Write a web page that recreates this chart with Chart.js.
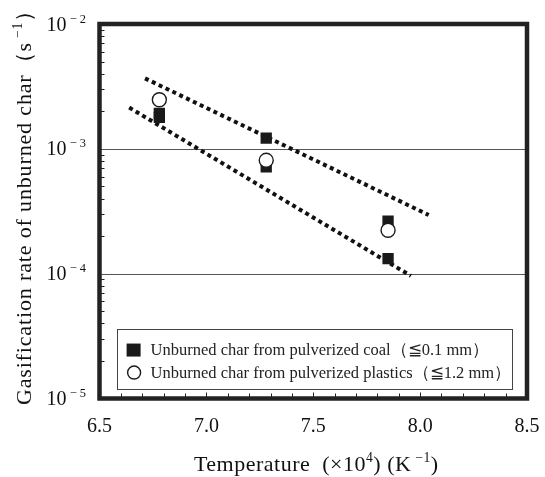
<!DOCTYPE html>
<html>
<head>
<meta charset="utf-8">
<script src="https://cdn.jsdelivr.net/npm/chart.js@4"></script>
<style>
  html, body { margin: 0; padding: 0; background: #fff; }
  canvas { display: block; }
</style>
</head>
<body>
<canvas id="grafico" width="545" height="477"></canvas>
<script>
// dados
const temperaturas = [6.78, 7.28, 7.85];
const carvaoAlto = [1.92e-3, 1.22e-3, 2.63e-4];
const carvaoBaixo = [1.79e-3, 7.18e-4, 1.32e-4];
const plasticos = [2.47e-3, 8.09e-4, 2.23e-4];

const retaSuperiorX = [6.713, 8.04];
const retaSuperiorY = [3.67e-3, 2.95e-4];
const retaInferiorX = [6.639, 7.957];
const retaInferiorY = [2.14e-3, 9.6e-5];

const ticksX = [6.5, 7.0, 7.5, 8.0, 8.5];
const expoentesY = [-2, -3, -4, -5];
const gradeY = [1e-3, 1e-4];

const legendas = [
    'Unburned char from pulverized coal（≦0.1 mm）',
    'Unburned char from pulverized plastics（≦1.2 mm）'
];

const FONTE = '"Liberation Serif", "Times New Roman", serif';

function pontos(xs, ys) {
    return xs.map((x, i) => ({ x: x, y: ys[i] }));
}

// desenha texto com partes sobrescritas
function textoRico(ctx, partes, x, y, align, espaco) {
    ctx.letterSpacing = (espaco || 0) + 'px';
    let total = 0;
    partes.forEach(p => {
        ctx.font = (p.sup ? p.size * 0.62 : p.size) + 'px ' + FONTE;
        p.w = ctx.measureText(p.t).width;
        total += p.w;
    });
    let cx = align === 'center' ? x - total / 2 : (align === 'right' ? x - total : x);
    partes.forEach(p => {
        ctx.font = (p.sup ? p.size * 0.62 : p.size) + 'px ' + FONTE;
        ctx.textAlign = 'left';
        ctx.textBaseline = 'alphabetic';
        ctx.fillText(p.t, cx, p.sup ? y - p.size * 0.4 : y);
        cx += p.w;
    });
    ctx.letterSpacing = '0px';
}

const decoracao = {
    id: 'decoracao',
    beforeDatasetsDraw(chart) {
        const ctx = chart.ctx;
        const a = chart.chartArea;
        const sy = chart.scales.y;
        ctx.save();
        ctx.strokeStyle = '#555';
        ctx.lineWidth = 1;
        gradeY.forEach(v => {
            const py = Math.round(sy.getPixelForValue(v)) + 0.5;
            ctx.beginPath();
            ctx.moveTo(a.left, py);
            ctx.lineTo(a.right, py);
            ctx.stroke();
        });
        ctx.restore();
    },
    afterDraw(chart) {
        const ctx = chart.ctx;
        const a = chart.chartArea;
        const sx = chart.scales.x;
        const sy = chart.scales.y;
        ctx.save();
        ctx.fillStyle = '#222';
        ctx.strokeStyle = '#222';

        // marcas menores do eixo x
        ctx.lineWidth = 1;
        for (let i = 0; i <= 20; i++) {
            const px = Math.round(sx.getPixelForValue(6.5 + i * 0.1)) + 0.5;
            const len = i % 5 === 0 ? 6 : 5;
            ctx.beginPath();
            ctx.moveTo(px, a.bottom);
            ctx.lineTo(px, a.bottom - len);
            ctx.stroke();
        }
        // marcas menores do eixo y (log)
        for (let d = -5; d <= -3; d++) {
            for (let m = 2; m <= 9; m++) {
                const py = Math.round(sy.getPixelForValue(m * Math.pow(10, d))) + 0.5;
                ctx.beginPath();
                ctx.moveTo(a.left, py);
                ctx.lineTo(a.left + 5, py);
                ctx.stroke();
            }
        }

        // moldura grossa
        ctx.lineWidth = 4.5;
        ctx.strokeRect(a.left, a.top, a.right - a.left, a.bottom - a.top);

        // rótulos do eixo x
        ctx.fillStyle = '#111';
        ctx.font = '20px ' + FONTE;
        ctx.textAlign = 'center';
        ctx.textBaseline = 'alphabetic';
        ticksX.forEach(v => {
            ctx.fillText(v.toFixed(1), sx.getPixelForValue(v), 432);
        });

        // rótulos do eixo y
        expoentesY.forEach(e => {
            const py = sy.getPixelForValue(Math.pow(10, e));
            textoRico(ctx, [
                { t: '10', size: 20 },
                { t: ' − ' + Math.abs(e), size: 20, sup: true }
            ], 86, py + 6.5, 'right');
        });

        // título do eixo x
        textoRico(ctx, [
            { t: 'Temperature  (×10', size: 22 },
            { t: '4', size: 22, sup: true },
            { t: ') (K', size: 22 },
            { t: ' −1', size: 22, sup: true },
            { t: ')', size: 22 }
        ], (a.left + a.right) / 2 + 3, 471, 'center', 0.5);

        // título do eixo y
        ctx.save();
        ctx.translate(31, 202);
        ctx.rotate(-Math.PI / 2);
        textoRico(ctx, [
            { t: 'Gasification rate of unburned char（s', size: 22 },
            { t: ' −1', size: 22, sup: true },
            { t: '）', size: 22 }
        ], 0, 0, 'center', 0.85);
        ctx.restore();

        // legenda
        const lx = sx.getPixelForValue(6.58), rx = sx.getPixelForValue(8.43);
        const ty = sy.getPixelForValue(3.6e-5), by = sy.getPixelForValue(1.19e-5);
        ctx.lineWidth = 1;
        ctx.strokeStyle = '#444';
        ctx.strokeRect(Math.round(lx) + 0.5, Math.round(ty) + 0.5, Math.round(rx - lx), Math.round(by - ty));
        const ds = chart.data.datasets;
        const linhas = [ty + 21, ty + 43.5];
        [0, 2].forEach((idx, k) => {
            const d = ds[idx];
            const cy = linhas[k];
            ctx.fillStyle = d.backgroundColor;
            ctx.strokeStyle = d.borderColor;
            ctx.lineWidth = d.borderWidth;
            if (d.pointStyle === 'rect') {
                ctx.fillRect(lx + 10, cy - 6.5, 14, 13);
            } else {
                ctx.beginPath();
                ctx.arc(lx + 17.5, cy, 6.5, 0, Math.PI * 2);
                ctx.fill();
                ctx.stroke();
            }
            ctx.fillStyle = '#222';
            ctx.font = '16.5px ' + FONTE;
            ctx.textAlign = 'left';
            ctx.textBaseline = 'middle';
            ctx.fillText(legendas[k], lx + 34, cy + 1);
        });
        ctx.restore();
    }
};

new Chart(document.getElementById('grafico'), {
    type: 'scatter',
    data: {
        datasets: [
            {
                label: legendas[0],
                data: pontos(temperaturas, carvaoAlto),
                pointStyle: 'rect',
                pointRadius: 8,
                backgroundColor: '#1a1a1a',
                borderColor: '#1a1a1a',
                borderWidth: 0,
                order: 1
            },
            {
                label: 'coal-2',
                data: pontos(temperaturas, carvaoBaixo),
                pointStyle: 'rect',
                pointRadius: 8,
                backgroundColor: '#1a1a1a',
                borderColor: '#1a1a1a',
                borderWidth: 0,
                order: 1
            },
            {
                label: legendas[1],
                data: pontos(temperaturas, plasticos),
                pointStyle: 'circle',
                pointRadius: 7,
                backgroundColor: '#fff',
                borderColor: '#1a1a1a',
                borderWidth: 1.4,
                order: 0
            },
            {
                label: 'fit-1',
                data: pontos(retaSuperiorX, retaSuperiorY),
                showLine: true,
                pointRadius: 0,
                borderColor: '#111',
                borderWidth: 4,
                borderDash: [4, 3.6],
                order: 2
            },
            {
                label: 'fit-2',
                data: pontos(retaInferiorX, retaInferiorY),
                showLine: true,
                pointRadius: 0,
                borderColor: '#111',
                borderWidth: 4,
                borderDash: [4, 3.6],
                order: 2
            }
        ]
    },
    options: {
        responsive: false,
        animation: false,
        layout: { padding: { top: 24, right: 18, left: 0, bottom: 0 } },
        plugins: {
            legend: { display: false },
            tooltip: { enabled: false }
        },
        scales: {
            x: {
                type: 'linear',
                min: 6.5,
                max: 8.5,
                grid: { display: false },
                border: { display: false },
                ticks: { display: false },
                afterFit: s => { s.height = 78.5; }
            },
            y: {
                type: 'logarithmic',
                min: 1e-5,
                max: 1e-2,
                grid: { display: false },
                border: { display: false },
                ticks: { display: false },
                afterFit: s => { s.width = 99.5; }
            }
        }
    },
    plugins: [decoracao]
});
</script>
</body>
</html>
